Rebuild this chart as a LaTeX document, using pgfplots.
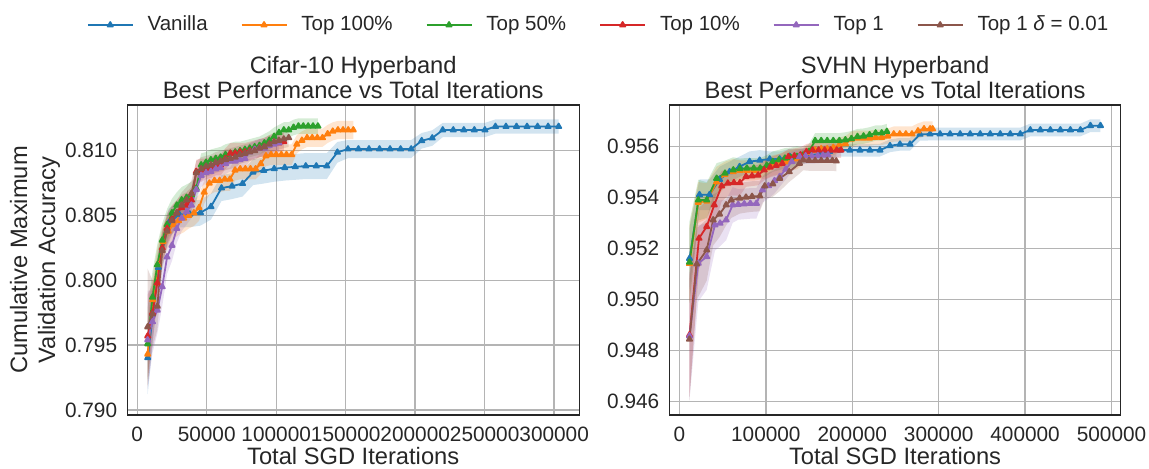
\documentclass[border=0pt]{standalone}
\usepackage{pgfplots}
\pgfplotsset{compat=1.18}
\usepackage{pgfplotstable}
\usepackage{fontspec}
\setmainfont{Liberation Sans}

\definecolor{cblue}{HTML}{1F77B4}
\definecolor{corange}{HTML}{FF7F0E}
\definecolor{cgreen}{HTML}{2CA02C}
\definecolor{cred}{HTML}{D62728}
\definecolor{cpurple}{HTML}{9467BD}
\definecolor{cbrown}{HTML}{8C564B}
\definecolor{gridgray}{HTML}{B4B4B4}
\definecolor{txt}{HTML}{262626}

% ---------------- Cifar-10 (x, mean, half band) ----------------
\pgfplotstableread{
x y e
7580 0.79403 0.0028
15160 0.80100 0.0015
22740 0.80444 0.0011
30320 0.80508 0.0010
37900 0.80511 0.0010
45480 0.80522 0.0010
53060 0.80569 0.0010
60640 0.80712 0.0010
68220 0.80727 0.0010
75800 0.80747 0.0010
83380 0.80835 0.0010
90960 0.80847 0.0010
98540 0.80861 0.0010
106120 0.80870 0.0010
113700 0.80876 0.0010
121280 0.80882 0.0010
128860 0.80882 0.0010
136440 0.80882 0.0010
144020 0.80988 0.0008
151600 0.81013 0.0007
159180 0.81013 0.0007
166760 0.81013 0.0007
174340 0.81013 0.0007
181920 0.81013 0.0007
189500 0.81013 0.0007
197080 0.81013 0.0007
204660 0.81077 0.0006
212240 0.81098 0.0006
219820 0.81160 0.00055
227400 0.81160 0.00055
234980 0.81160 0.00055
242560 0.81160 0.00055
250140 0.81160 0.00055
257720 0.81187 0.00055
265300 0.81187 0.00055
272880 0.81187 0.00055
280460 0.81187 0.00055
288040 0.81187 0.00055
295620 0.81187 0.00055
303200 0.81187 0.00055
}\cVan

\pgfplotstableread{
x y e
7500 0.7943 0.0025
11200 0.7985 0.0018
14900 0.8012 0.0015
18600 0.8030 0.0013
22300 0.8038 0.0012
26000 0.8043 0.0011
29700 0.8046 0.0011
33400 0.8048 0.0011
37100 0.8050 0.0010
40800 0.8052 0.0010
44500 0.8056 0.0010
48200 0.8068 0.0009
51900 0.8075 0.0009
55600 0.8077 0.0009
59300 0.8077 0.0009
63000 0.8078 0.0009
66700 0.8078 0.0009
70400 0.8085 0.0008
74100 0.8086 0.0008
77800 0.8086 0.0008
81500 0.8086 0.0008
85200 0.8086 0.0008
88900 0.8090 0.0008
92600 0.8096 0.0008
96300 0.8097 0.0008
100000 0.8097 0.0008
103700 0.8097 0.0008
107400 0.8097 0.0008
111100 0.8097 0.0008
114800 0.8105 0.0007
118500 0.8108 0.0007
122200 0.8110 0.0007
125900 0.8110 0.0007
129600 0.8110 0.0007
133300 0.8110 0.0007
137000 0.8113 0.0007
140700 0.8115 0.0007
144400 0.8116 0.0007
148100 0.8116 0.0007
151800 0.8116 0.0007
155500 0.8116 0.0007
}\cTopAll

\pgfplotstableread{
x y e
7500 0.7951 0.0028
11000 0.7987 0.0020
14500 0.8012 0.0016
18000 0.8031 0.0013
21500 0.8043 0.0012
25000 0.8052 0.0011
28500 0.8058 0.0010
32000 0.8062 0.0010
35500 0.8064 0.0010
39000 0.8066 0.0010
42500 0.8071 0.0010
46000 0.8089 0.0009
49500 0.8091 0.0008
53000 0.8093 0.0008
56500 0.8094 0.0008
60000 0.8095 0.0008
63500 0.8097 0.0008
67000 0.8098 0.0008
70500 0.8099 0.0008
74000 0.8100 0.0007
77500 0.8101 0.0007
81000 0.8102 0.0007
84500 0.8103 0.0007
88000 0.8104 0.0007
91500 0.8106 0.0007
95000 0.8108 0.0007
98500 0.8111 0.0007
102000 0.8114 0.0006
105500 0.8116 0.0006
109000 0.8116 0.0006
112500 0.8118 0.0006
116000 0.8119 0.0006
119500 0.8119 0.0006
123000 0.8119 0.0006
126500 0.8119 0.0006
130000 0.8119 0.0006
}\cTopHalf

\pgfplotstableread{
x y e
7500 0.7957 0.0032
11000 0.7975 0.0022
14500 0.7998 0.0017
18000 0.8025 0.0014
21500 0.8040 0.0012
25000 0.8047 0.0011
28500 0.8052 0.0010
32000 0.8056 0.0010
35500 0.8058 0.0010
39000 0.8062 0.0010
42500 0.8084 0.0009
46000 0.8085 0.0009
49500 0.8086 0.0008
53000 0.8087 0.0008
56500 0.8089 0.0008
60000 0.8089 0.0008
63500 0.8094 0.0008
67000 0.8098 0.0008
70500 0.8098 0.0008
74000 0.8099 0.0007
77500 0.8099 0.0007
81000 0.8100 0.0007
84500 0.8101 0.0007
88000 0.8102 0.0007
91500 0.8103 0.0007
95000 0.8105 0.0007
98500 0.8106 0.0007
102000 0.8106 0.0007
105500 0.8107 0.0007
}\cTopTen

\pgfplotstableread{
x y e
7500 0.7954 0.0038
11000 0.7968 0.0024
14500 0.7977 0.0018
18000 0.7995 0.0015
21500 0.8018 0.0013
25000 0.8027 0.0012
28500 0.8040 0.0011
32000 0.8048 0.0010
35500 0.8053 0.0010
39000 0.8058 0.0010
42500 0.8070 0.0009
46000 0.8081 0.0009
49500 0.8083 0.0008
53000 0.8084 0.0008
56500 0.8086 0.0008
60000 0.8087 0.0008
63500 0.8090 0.0008
67000 0.8092 0.0008
70500 0.8092 0.0008
74000 0.8093 0.0007
77500 0.8094 0.0007
81000 0.8099 0.0007
84500 0.8101 0.0007
88000 0.8102 0.0007
91500 0.8102 0.0007
95000 0.8104 0.0007
98500 0.8105 0.0007
102000 0.8106 0.0007
}\cTopOne

\pgfplotstableread{
x y e
7500 0.7964 0.0045
11000 0.7974 0.0026
14500 0.7980 0.0018
18000 0.8023 0.0014
21500 0.8038 0.0012
25000 0.8046 0.0011
28500 0.8052 0.0010
32000 0.8058 0.0010
35500 0.8062 0.0010
39000 0.8067 0.0010
42500 0.8083 0.0009
46000 0.8086 0.0009
49500 0.8088 0.0008
53000 0.8089 0.0008
56500 0.8091 0.0008
60000 0.8092 0.0008
63500 0.8093 0.0008
67000 0.8094 0.0008
70500 0.8095 0.0008
74000 0.8097 0.0007
77500 0.8098 0.0007
81000 0.8099 0.0007
84500 0.8100 0.0007
88000 0.8102 0.0007
91500 0.8103 0.0007
95000 0.8105 0.0007
98500 0.8107 0.0007
102000 0.8108 0.0007
105500 0.8109 0.0007
109000 0.8110 0.0007
}\cTopOneD

% ---------------- SVHN ----------------
\pgfplotstableread{
x y e
11600 0.95160 0.0012
23200 0.95410 0.0006
34800 0.95410 0.0006
46400 0.95470 0.0005
58000 0.95500 0.0004
69600 0.95520 0.0004
81200 0.95540 0.0004
92800 0.95545 0.0004
104400 0.95550 0.0003
116000 0.95550 0.0003
127600 0.95560 0.0003
139200 0.95560 0.0003
150800 0.95565 0.0003
162400 0.95570 0.0003
174000 0.95580 0.0003
185600 0.95585 0.00025
197200 0.95585 0.00025
208800 0.95585 0.00025
220400 0.95585 0.00025
232000 0.95585 0.00025
243600 0.95602 0.00025
255200 0.95608 0.00025
266800 0.95608 0.00025
278400 0.95647 0.00025
290000 0.95648 0.00025
301600 0.95648 0.00025
313200 0.95648 0.00025
324800 0.95648 0.00025
336400 0.95648 0.00025
348000 0.95648 0.00025
359600 0.95648 0.00025
371200 0.95648 0.00025
382800 0.95648 0.00025
394400 0.95648 0.00025
406000 0.95664 0.00025
417600 0.95664 0.00025
429200 0.95664 0.00025
440800 0.95664 0.00025
452400 0.95664 0.00025
464000 0.95664 0.00025
475600 0.95681 0.00025
487200 0.95681 0.00025
}\sVan

\pgfplotstableread{
x y e
11600 0.95140 0.0015
21800 0.95380 0.0008
31500 0.95385 0.0007
43000 0.95460 0.0006
52700 0.95490 0.0005
62300 0.95500 0.0005
70000 0.95505 0.0004
78000 0.95505 0.0004
86000 0.95505 0.0004
93500 0.95510 0.0004
101000 0.95515 0.0004
108000 0.95525 0.0004
115000 0.95530 0.0004
122000 0.95540 0.0004
129000 0.95545 0.0004
136000 0.95550 0.0004
143000 0.95560 0.0003
150000 0.95575 0.0003
157000 0.95585 0.0003
164000 0.95590 0.0003
171000 0.95590 0.0003
178000 0.95595 0.0003
185000 0.95605 0.0003
192000 0.95610 0.0003
199000 0.95628 0.0003
206000 0.95632 0.0003
213000 0.95632 0.0003
220000 0.95632 0.0003
227000 0.95635 0.0003
234000 0.95635 0.0003
241000 0.95640 0.0003
248000 0.95648 0.0003
255000 0.95648 0.0003
262000 0.95648 0.0003
269000 0.95648 0.0003
276000 0.95660 0.0003
283000 0.95668 0.0003
290000 0.95668 0.0003
293000 0.95668 0.0003
}\sTopAll

\pgfplotstableread{
x y e
11600 0.95145 0.0016
21800 0.95389 0.0008
31500 0.95389 0.0007
43000 0.95474 0.0006
52700 0.95494 0.0005
62300 0.95507 0.0005
70000 0.95512 0.0004
78000 0.95514 0.0004
86000 0.95514 0.0004
93500 0.95514 0.0004
101000 0.95525 0.0004
108000 0.95540 0.0004
115000 0.95546 0.0004
122000 0.95553 0.0004
129000 0.95555 0.0004
136000 0.95560 0.0004
143000 0.95565 0.0003
150000 0.95580 0.0003
157000 0.95622 0.0003
164000 0.95622 0.0003
171000 0.95622 0.0003
178000 0.95622 0.0003
185000 0.95622 0.0003
192000 0.95625 0.0003
199000 0.95630 0.0003
206000 0.95638 0.0003
213000 0.95640 0.0003
220000 0.95645 0.0003
227000 0.95652 0.0003
234000 0.95652 0.0003
240000 0.95658 0.0003
}\sTopHalf

\pgfplotstableread{
x y e
11600 0.94860 0.0024
22600 0.95239 0.0012
31500 0.95285 0.0010
40300 0.95370 0.0008
48800 0.95444 0.0006
56000 0.95455 0.0005
63000 0.95457 0.0005
70000 0.95457 0.0005
77000 0.95481 0.0004
84000 0.95484 0.0004
91000 0.95487 0.0004
98000 0.95507 0.0004
105000 0.95518 0.0004
112000 0.95525 0.0004
119000 0.95533 0.0004
126000 0.95559 0.0003
133000 0.95562 0.0003
140000 0.95566 0.0003
147000 0.95579 0.0003
154000 0.95585 0.0003
161000 0.95585 0.0003
168000 0.95585 0.0003
175000 0.95585 0.0003
182000 0.95585 0.0003
187000 0.95585 0.0003
}\sTopTen

\pgfplotstableread{
x y e
11600 0.94856 0.0025
21800 0.95141 0.0015
31500 0.95167 0.0013
41100 0.95291 0.0010
47000 0.95298 0.0009
54000 0.95311 0.0008
61600 0.95370 0.0007
68000 0.95372 0.0006
75000 0.95374 0.0006
82000 0.95376 0.0006
89000 0.95376 0.0006
96000 0.95429 0.0005
103000 0.95445 0.0005
110000 0.95465 0.0005
116000 0.95481 0.0004
123000 0.95510 0.0004
130000 0.95540 0.0004
139000 0.95559 0.0003
146000 0.95562 0.0003
153000 0.95562 0.0003
160000 0.95563 0.0003
166000 0.95565 0.0003
172000 0.95566 0.0003
}\sTopOne

\pgfplotstableread{
x y e
11600 0.94843 0.0024
20000 0.95138 0.0014
31500 0.95193 0.0012
39000 0.95311 0.0010
46400 0.95334 0.0009
54000 0.95370 0.0008
60000 0.95389 0.0007
69600 0.95396 0.0006
77000 0.95400 0.0006
84000 0.95403 0.0006
93000 0.95405 0.0006
98700 0.95444 0.0005
108000 0.95452 0.0005
116000 0.95474 0.0005
127000 0.95500 0.0004
139000 0.95533 0.0004
143000 0.95546 0.0004
150000 0.95544 0.0004
157000 0.95544 0.0004
164000 0.95544 0.0004
171000 0.95544 0.0004
177000 0.95544 0.0004
181500 0.95542 0.0004
}\sTopOneD

% Band outline of a series: mean+e left to right, then mean-e right to left.
\newcommand{\mkband}[2]{%
  \pgfplotstablesort[sort key=x, sort cmp={float <}]{#2}{#1}%
  \pgfplotstablecreatecol[create col/expr={\thisrow{y}+\thisrow{e}}]{b}{#2}%
  \pgfplotstablesort[sort key=x, sort cmp={float >}]{\bandlow}{#1}%
  \pgfplotstablecreatecol[create col/expr={\thisrow{y}-\thisrow{e}}]{b}{\bandlow}%
  \pgfplotstablevertcat{#2}{\bandlow}%
}
\mkband{\cVan}{\cVanB}
\mkband{\cTopAll}{\cTopAllB}
\mkband{\cTopHalf}{\cTopHalfB}
\mkband{\cTopTen}{\cTopTenB}
\mkband{\cTopOne}{\cTopOneB}
\mkband{\cTopOneD}{\cTopOneDB}
\mkband{\sVan}{\sVanB}
\mkband{\sTopAll}{\sTopAllB}
\mkband{\sTopHalf}{\sTopHalfB}
\mkband{\sTopTen}{\sTopTenB}
\mkband{\sTopOne}{\sTopOneB}
\mkband{\sTopOneD}{\sTopOneDB}

\pgfplotsset{
  hp/.style={
    scale only axis,
    height=155pt,
    grid=major,
    major grid style={color=gridgray, line width=0.7pt},
    axis line style={color=txt, line width=0.6pt},
    major tick length=0pt,
    tick label style={font=\fontsize{10.4}{12}\selectfont, text=txt},
    label style={font=\fontsize{11.85}{14}\selectfont, text=txt},
    title style={font=\fontsize{11.85}{12.5}\selectfont, align=center, text=txt,
      yshift=-6.5pt},
    scaled x ticks=false,
    scaled y ticks=false,
    /pgf/number format/assume math mode=true,
    xticklabel style={/pgf/number format/.cd, fixed, precision=0, 1000 sep={},
      /tikz/.cd, yshift=-2.5pt},
    yticklabel style={/pgf/number format/.cd, fixed, fixed zerofill, precision=3,
      /tikz/.cd, xshift=-1.5pt},
    xlabel style={at={(axis description cs:0.5,0)}, anchor=base, yshift=-24.5pt},
  },
  ser/.style={color=#1, line width=0.9pt, mark=triangle*, mark size=1.5pt,
    mark options={solid}, line join=round},
  band/.style={fill=#1, fill opacity=0.2, draw=none, forget plot, mark=none},
}

\begin{document}
\begin{tikzpicture}
\useasboundingbox (0,0) rectangle (574.5pt,234pt);

\begin{axis}[hp,
  at={(63.6pt,26.5pt)}, anchor=south west,
  width=226pt,
  xmin=-7200, xmax=318000,
  ymin=0.78961, ymax=0.81353,
  xtick={0,50000,100000,150000,200000,250000,300000},
  ytick={0.790,0.795,0.800,0.805,0.810},
  title={Cifar-10 Hyperband\\Best Performance vs Total Iterations},
  xlabel={Total SGD Iterations},
  ylabel={Cumulative Maximum\\Validation Accuracy},
  ylabel style={align=center, at={(axis description cs:-0.204,0.5)}, anchor=center},
  legend columns=6,
  legend style={at={(1.045,1.258)}, anchor=center, draw=none, fill=none,
    font=\fontsize{10.25}{12}\selectfont, text=txt,
    /tikz/every odd column/.append style={column sep=5pt},
    /tikz/every even column/.append style={column sep=14.5pt}},
  legend image code/.code={\draw[mark repeat=2,mark phase=2,#1]
    plot coordinates {(0pt,0pt) (11.25pt,0pt) (22.5pt,0pt)};},
]
\addplot[band=cblue] table[x=x, y=b] {\cVanB};
\addplot[band=corange] table[x=x, y=b] {\cTopAllB};
\addplot[band=cgreen] table[x=x, y=b] {\cTopHalfB};
\addplot[band=cred] table[x=x, y=b] {\cTopTenB};
\addplot[band=cpurple] table[x=x, y=b] {\cTopOneB};
\addplot[band=cbrown] table[x=x, y=b] {\cTopOneDB};
\addplot[ser=cblue] table[x=x, y=y] {\cVan};
\addlegendentry{Vanilla}
\addplot[ser=corange] table[x=x, y=y] {\cTopAll};
\addlegendentry{Top 100\%}
\addplot[ser=cgreen] table[x=x, y=y] {\cTopHalf};
\addlegendentry{Top 50\%}
\addplot[ser=cred] table[x=x, y=y] {\cTopTen};
\addlegendentry{Top 10\%}
\addplot[ser=cpurple] table[x=x, y=y] {\cTopOne};
\addlegendentry{Top 1}
\addplot[ser=cbrown] table[x=x, y=y] {\cTopOneD};
\addlegendentry{Top 1 \textit{δ} = 0.01}
\end{axis}

\begin{axis}[hp,
  at={(334.65pt,26.5pt)}, anchor=south west,
  width=225.75pt,
  xmin=-11750, xmax=510750,
  ymin=0.94546, ymax=0.95762,
  xtick={0,100000,200000,300000,400000,500000},
  ytick={0.946,0.948,0.950,0.952,0.954,0.956},
  title={SVHN Hyperband\\Best Performance vs Total Iterations},
  xlabel={Total SGD Iterations},
]
\addplot[band=cblue] table[x=x, y=b] {\sVanB};
\addplot[band=corange] table[x=x, y=b] {\sTopAllB};
\addplot[band=cgreen] table[x=x, y=b] {\sTopHalfB};
\addplot[band=cred] table[x=x, y=b] {\sTopTenB};
\addplot[band=cpurple] table[x=x, y=b] {\sTopOneB};
\addplot[band=cbrown] table[x=x, y=b] {\sTopOneDB};
\addplot[ser=cblue] table[x=x, y=y] {\sVan};
\addplot[ser=corange] table[x=x, y=y] {\sTopAll};
\addplot[ser=cgreen] table[x=x, y=y] {\sTopHalf};
\addplot[ser=cred] table[x=x, y=y] {\sTopTen};
\addplot[ser=cpurple] table[x=x, y=y] {\sTopOne};
\addplot[ser=cbrown] table[x=x, y=y] {\sTopOneD};
\end{axis}
\end{tikzpicture}
\end{document}
